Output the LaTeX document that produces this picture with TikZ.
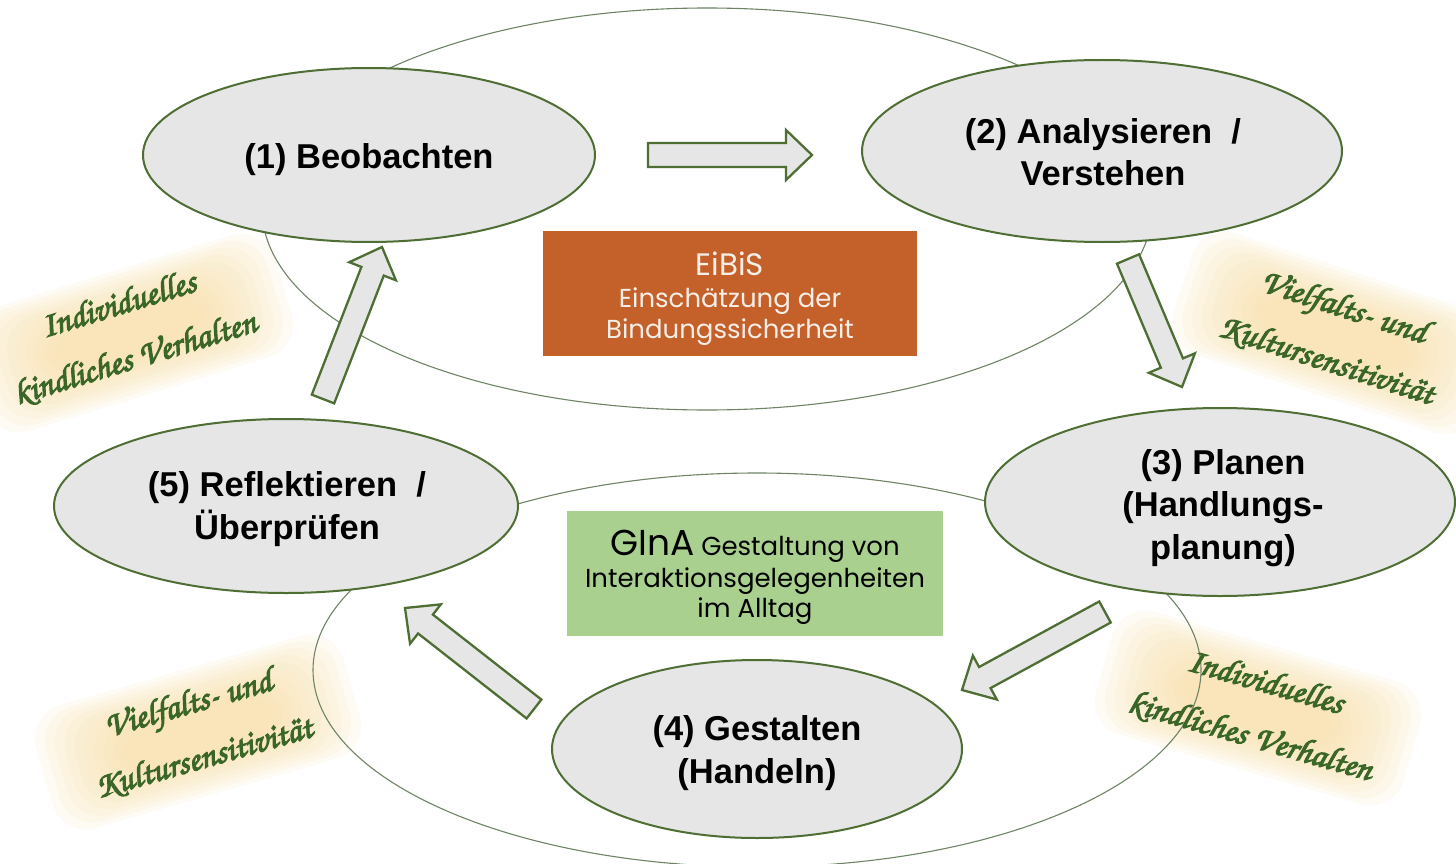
\documentclass[tikz,border=0pt]{standalone}
\usepackage[T1]{fontenc}
\usepackage{fontspec}
\setmainfont{Liberation Sans}
\newfontfamily\gothic{Poppins}
\usetikzlibrary{shapes.geometric,calc}
\definecolor{edgegreen}{HTML}{4E6E33}
\definecolor{ringgreen}{HTML}{6F8466}
\definecolor{stagefill}{HTML}{E6E6E6}
\definecolor{scriptgreen}{HTML}{3A6628}
\definecolor{glowc}{HTML}{FADFA6}
\definecolor{eibisfill}{HTML}{C4612A}
\definecolor{eibistext}{HTML}{F8EEE8}
\definecolor{ginafill}{HTML}{A9D08E}
\newcommand\stagefont{\fontsize{34.5}{42.5}\selectfont\bfseries}
\newcommand\calligfont{\fontsize{35}{56}\usefont{T1}{pzc}{mb}{it}}
\newcommand\thick[1]{\special{pdf:literal direct 2 Tr 1.1 w}#1\special{pdf:literal direct 0 Tr}}
\newcommand\blockarrow[2]{%
  \coordinate (bh) at ($(#2)!26pt!(#1)$);
  \draw[blockarr] ($(#1)!12pt!90:(#2)$) -- ($(bh)!12pt!90:(#2)$) -- ($(bh)!25pt!90:(#2)$) -- (#2)
     -- ($(bh)!25pt!-90:(#2)$) -- ($(bh)!12pt!-90:(#2)$) -- ($(#1)!12pt!-90:(#2)$) -- cycle;}
\newcommand\softglow[3]{%
  \begin{scope}[shift={(#1,#2)}, rotate=#3]
    \foreach \i in {0,...,9}{
      \fill[glowc, opacity=0.12, rounded corners=35pt]
        ({-160+\i*9},{-64+\i*4.5}) rectangle ({160-\i*9},{64-\i*4.5});
    }
  \end{scope}}
\tikzset{
  stage/.style={ellipse, draw=edgegreen, line width=2pt, fill=stagefill, inner sep=0pt},
  stagetext/.style={align=center, font=\stagefont, inner sep=0pt},
  ring/.style={draw=ringgreen, line width=1.1pt},
  blockarr/.style={draw=edgegreen, line width=2.3pt, fill=stagefill, line join=miter},
  infobox/.style={rectangle, inner sep=0pt},
  boxline/.style={inner sep=0pt, font=\gothic\fontsize{26}{30}\selectfont},
  scripttext/.style={text=scriptgreen, align=center, font=\calligfont, inner sep=0pt},
}
\begin{document}
\begin{tikzpicture}[x=1pt,y=-1pt]
\useasboundingbox[fill=white] (0,0) rectangle (1456,864);

% soft glows
\softglow{130}{333}{17}
\softglow{1335}{333}{-18}
\softglow{198}{732}{16}
\softglow{1258}{708}{-16}

% rings
\draw[ring] (707,209) ellipse [x radius=445, y radius=201];
\draw[ring] (757,670) ellipse [x radius=444, y radius=197];

% info boxes
\node[infobox, fill=eibisfill, minimum width=374pt, minimum height=125pt] (eibis) at (730,293.5) {};
\node[boxline, text=eibistext, font=\gothic\fontsize{31}{31}\selectfont] (eibis1) at (730,264) {EiBiS};
\node[boxline, text=eibistext] (eibis2) at (730,301) {Einsch\"atzung der};
\node[boxline, text=eibistext] (eibis3) at (730,332) {Bindungssicherheit};

\node[infobox, fill=ginafill, minimum width=376pt, minimum height=125pt] (gina) at (755,573.5) {};
\node[boxline] (gina1) at (755,546) {{\fontsize{36}{36}\selectfont GInA} Gestaltung von};
\node[boxline] (gina2) at (755,581) {Interaktionsgelegenheiten};
\node[boxline] (gina3) at (755,611) {im Alltag};

% stages
\node[stage, minimum width=452pt, minimum height=174pt] (s1) at (369,155) {};
\node[stage, minimum width=480pt, minimum height=182pt] (s2) at (1102,151) {};
\node[stage, minimum width=470pt, minimum height=188pt] (s3) at (1220,502) {};
\node[stage, minimum width=410pt, minimum height=178pt] (s4) at (757,749) {};
\node[stage, minimum width=464pt, minimum height=174pt] (s5) at (286,506) {};
\node[stagetext] (s1t) at ($(s1.center)+(0,5)$) {(1) Beobachten};
\node[stagetext] (s2t) at ($(s2.center)+(1,1)$) {(2) Analysieren~~/\\Verstehen};
\node[stagetext] (s3t) at ($(s3.center)+(3,6)$) {(3) Planen\\(Handlungs-\\planung)};
\node[stagetext] (s4t) at ($(s4.center)+(0,4)$) {(4) Gestalten\\(Handeln)};
\node[stagetext] (s5t) at ($(s5.center)+(1,3)$) {(5) Reflektieren~~/\\\"Uberpr\"ufen};

% block arrows
\coordinate (a1t) at (648,155);  \coordinate (a1h) at (812,155);
\coordinate (a2t) at (1128,259); \coordinate (a2h) at (1182,387);
\coordinate (a3t) at (1105,612); \coordinate (a3h) at (962,690);
\coordinate (a4t) at (534,709);  \coordinate (a4h) at (405,608);
\coordinate (a5t) at (323,399);  \coordinate (a5h) at (382,247);
\blockarrow{a1t}{a1h}
\blockarrow{a2t}{a2h}
\blockarrow{a3t}{a3h}
\blockarrow{a4t}{a4h}
\blockarrow{a5t}{a5h}

% script labels
\node[scripttext, rotate=17] (l1) at (127,332) {\thick{Individuelles}\\\thick{kindliches Verhalten}};
\node[scripttext, rotate=-18] (l2) at (1335,334) {\thick{Vielfalts- und}\\\thick{Kultursensitivit\"at}};
\node[scripttext, rotate=16] (l3) at (196,731) {\thick{Vielfalts- und}\\\thick{Kultursensitivit\"at}};
\node[scripttext, rotate=-16] (l4) at (1258,710) {\thick{Individuelles}\\\thick{kindliches Verhalten}};
\end{tikzpicture}
\end{document}
